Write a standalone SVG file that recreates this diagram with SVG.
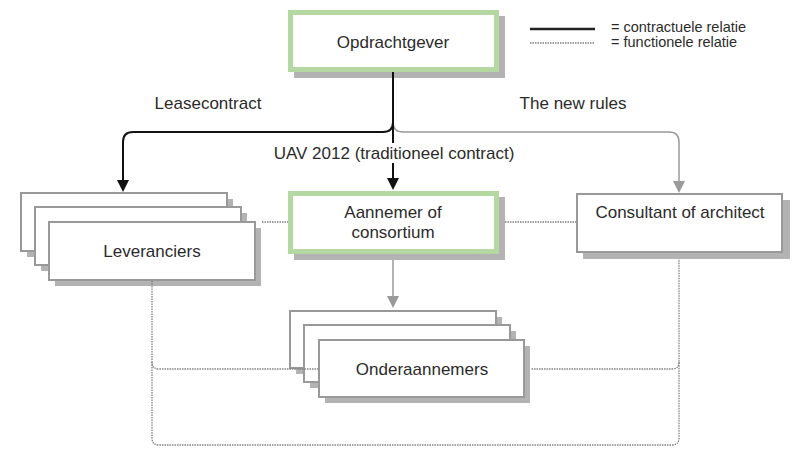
<svg xmlns="http://www.w3.org/2000/svg" width="798" height="455" viewBox="0 0 798 455">
<defs>
<style>
text{font-family:"Liberation Sans",Arial,sans-serif;font-size:17px;fill:#2b2b2b;text-anchor:middle}
.legend{font-size:14.5px;text-anchor:start}
.shadow{fill:#b3b3b3}
.green{fill:#fff;stroke:#b5d8a3;stroke-width:5}
.box{fill:#fff;stroke:#999;stroke-width:2}
.solid{fill:none;stroke:#111;stroke-width:2}
.grey{fill:none;stroke:#9a9a9a;stroke-width:1.5}
.dot{fill:none;stroke:#808080;stroke-width:1.3;stroke-dasharray:1.5 1}
</style>
<marker id="ab" markerUnits="userSpaceOnUse" markerWidth="12" markerHeight="12" refX="0" refY="6" orient="auto" overflow="visible">
<path d="M0,0 L12,6 L0,12 Z" fill="#111"/>
</marker>
<marker id="ag" markerUnits="userSpaceOnUse" markerWidth="12" markerHeight="12" refX="0" refY="6" orient="auto" overflow="visible">
<path d="M0,0 L12,6 L0,12 Z" fill="#9a9a9a"/>
</marker>
</defs>
<rect width="798" height="455" fill="#fff"/>

<g id="legend">
<line x1="530" y1="29" x2="595" y2="29" stroke="#222" stroke-width="2.5"/>
<line x1="530" y1="43" x2="595" y2="43" class="dot"/>
<text class="legend" x="611" y="32">= contractuele relatie</text>
<text class="legend" x="611" y="47">= functionele relatie</text>
</g>

<g id="opdrachtgever">
<rect class="shadow" x="294" y="16" width="211" height="62"/>
<rect class="green" x="290.5" y="12.5" width="206" height="57"/>
<text x="393" y="48">Opdrachtgever</text>
</g>

<g id="leveranciers">
<rect class="shadow" x="27" y="199" width="206" height="58"/>
<rect class="box" x="21" y="193" width="206" height="58"/>
<rect class="shadow" x="41" y="213" width="206" height="58"/>
<rect class="box" x="35" y="207" width="206" height="58"/>
<rect class="shadow" x="55" y="228" width="206" height="58"/>
<rect class="box" x="49" y="222" width="206" height="58"/>
<text x="152" y="257">Leveranciers</text>
</g>

<g id="aannemer">
<rect class="shadow" x="294" y="197" width="211" height="63"/>
<rect class="green" x="290.5" y="193.5" width="206" height="58"/>
<text x="393" y="218">Aannemer of</text>
<text x="393" y="238">consortium</text>
</g>

<g id="consultant">
<rect class="shadow" x="583" y="200" width="207" height="59"/>
<rect class="box" x="577" y="194" width="205" height="58"/>
<text x="680" y="218">Consultant of architect</text>
</g>

<g id="onderaannemers">
<rect class="shadow" x="296" y="317" width="206" height="57"/>
<rect class="box" x="290" y="311" width="206" height="57"/>
<rect class="shadow" x="310" y="331" width="206" height="57"/>
<rect class="box" x="304" y="325" width="206" height="57"/>
<rect class="shadow" x="325" y="346" width="205" height="57"/>
<rect class="box" x="319" y="340" width="205" height="57"/>
<text x="422" y="375">Onderaannemers</text>
</g>

<g id="connectors">
<path class="dot" d="M262 222 H288"/>
<path class="dot" d="M505 222 H576"/>
<path class="dot" d="M152 281 V362 Q152 369 159 369 H318"/>
<path class="dot" d="M152 362 V438 Q152 445 159 445 H672 Q679 445 679 438 V259"/>
<path class="dot" d="M679 362 Q679 369 672 369 H531"/>
<path class="grey" d="M393 122 Q393 132 403 132 H669 Q679 132 679 142 V181" marker-end="url(#ag)"/>
<path class="grey" d="M393 260 V296" marker-end="url(#ag)"/>
<path class="solid" d="M393 72 V122 Q393 132 383 132 H133 Q123 132 123 142 V180" marker-end="url(#ab)"/>
<path class="solid" d="M393 78 V178" marker-end="url(#ab)"/>
<rect x="268" y="143" width="252" height="20" fill="#fff"/>
<text x="208" y="109">Leasecontract</text>
<text x="573" y="109">The new rules</text>
<text x="394" y="159">UAV 2012 (traditioneel contract)</text>
</g>
</svg>
